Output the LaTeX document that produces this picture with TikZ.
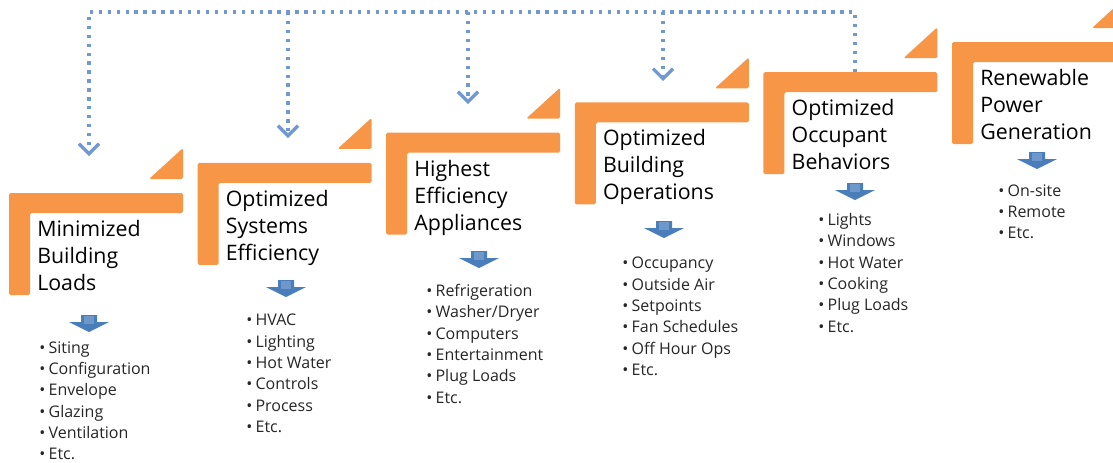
\documentclass[tikz,border=0pt]{standalone}
\usepackage{fontspec}
\setmainfont{Open Sans}
\usetikzlibrary{arrows.meta}
\definecolor{stepOrange}{HTML}{F79646}
\definecolor{arrowBlue}{HTML}{4A7EBB}
\definecolor{loopBlue}{RGB}{112,152,210}
\newcommand{\itm}[1]{\textbullet\hspace{2.5pt}#1}

\begin{document}
\begin{tikzpicture}[x=0.75pt,y=-0.75pt,
    stepshape/.style={fill=stepOrange,rounded corners=1.2pt},
    steptitle/.style={anchor=north west,inner sep=0pt,align=left,font=\fontsize{16}{20.25}\selectfont},
    itemlist/.style={anchor=north west,inner sep=0pt,align=left,text=black!85,font=\fontsize{12}{16}\selectfont},
    feedback/.style={draw=loopBlue,line width=2.5pt,dash pattern=on 2.5pt off 4.2pt,-{Straight Barb[length=7.5pt,width=15pt]}},
    pics/stepL/.style={code={
      \fill[stepshape] (0,0) -- (174,0) -- (174,20) -- (21,20) -- (21,102) -- (0,102) -- cycle;
      \fill[stepshape] (174,-14) -- (140,-14) -- (174,-45) -- cycle;}},
    pics/downblock/.style={code={
      \fill[arrowBlue] (-8,0) -- (8,0) -- (8,7) -- (20,7) -- (0,17) -- (-20,7) -- (-8,7) -- cycle;
      \fill[arrowBlue!80!white] (-5,1) rectangle (5,9);}}]
  \useasboundingbox (0,0) rectangle (1113,462);
  \clip (0,0) rectangle (1113,462);

  % steps
  \pic at (9,193) {stepL};
  \pic at (197.6,162.8) {stepL};
  \pic at (386.2,132.6) {stepL};
  \pic at (574.8,102.4) {stepL};
  \pic at (763.4,72.2) {stepL};
  \pic at (952,42) {stepL};

  \node[steptitle] (t1) at (37,220) {Minimized\\Building\\Loads};
  \node[steptitle] (t2) at (225.6,189.8) {Optimized\\Systems\\Efficiency};
  \node[steptitle] (t3) at (414.2,159.6) {Highest\\Efficiency\\Appliances};
  \node[steptitle] (t4) at (602.8,129.4) {Optimized\\Building\\Operations};
  \node[steptitle] (t5) at (791.4,99.2) {Optimized\\Occupant\\Behaviors};
  \node[steptitle] (t6) at (980,69) {Renewable\\Power\\Generation};

  % block arrows
  \pic at (89,315) {downblock};
  \pic at (286,280) {downblock};
  \pic at (479,251) {downblock};
  \pic at (664,221) {downblock};
  \pic at (855,183) {downblock};
  \pic at (1037,152) {downblock};

  % lists
  \node[itemlist] (l1) at (39,341) {\itm{Siting}\\\itm{Configuration}\\\itm{Envelope}\\\itm{Glazing}\\\itm{Ventilation}\\\itm{Etc.}};
  \node[itemlist] (l2) at (246,314) {\itm{HVAC}\\\itm{Lighting}\\\itm{Hot Water}\\\itm{Controls}\\\itm{Process}\\\itm{Etc.}};
  \node[itemlist] (l3) at (426,284) {\itm{Refrigeration}\\\itm{Washer/Dryer}\\\itm{Computers}\\\itm{Entertainment}\\\itm{Plug Loads}\\\itm{Etc.}};
  \node[itemlist] (l4) at (622,257) {\itm{Occupancy}\\\itm{Outside Air}\\\itm{Setpoints}\\\itm{Fan Schedules}\\\itm{Off Hour Ops}\\\itm{Etc.}};
  \node[itemlist] (l5) at (818,213) {\itm{Lights}\\\itm{Windows}\\\itm{Hot Water}\\\itm{Cooking}\\\itm{Plug Loads}\\\itm{Etc.}};
  \node[itemlist] (l6) at (998,184) {\itm{On-site}\\\itm{Remote}\\\itm{Etc.}};

  % feedback loop
  \coordinate (src) at (855,72);
  \coordinate (hub) at (855,12);
  \coordinate (in1) at (89,156);
  \coordinate (in2) at (288,138);
  \coordinate (in3) at (468,104);
  \coordinate (in4) at (663,81);
  \draw[feedback] (src) -- (hub) -| (in1);
  \foreach \k in {2,3,4}
    \draw[feedback] (in\k |- hub) -- (in\k);
\end{tikzpicture}
\end{document}
